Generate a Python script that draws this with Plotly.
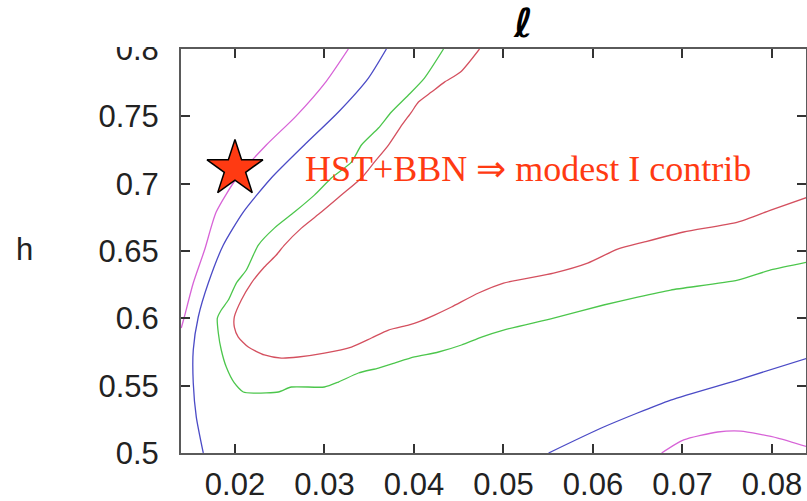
import plotly.graph_objects as go

# Confidence contours in the (l, h) plane
magenta_upper_x = [0.03267, 0.0302, 0.0268, 0.0235, 0.0202, 0.0179, 0.0166, 0.01534, 0.01434, 0.0140]
magenta_upper_y = [0.800, 0.776, 0.750, 0.7287, 0.7042, 0.6789, 0.6507, 0.6262, 0.601, 0.5928]

magenta_lower_x = [0.06767, 0.07013, 0.07393, 0.07651, 0.08064, 0.0840]
magenta_lower_y = [0.500, 0.5097, 0.5156, 0.5163, 0.5111, 0.5045]

blue_upper_x = [0.03692, 0.03491, 0.03156, 0.02775, 0.02406, 0.02093, 0.0187, 0.01702,
                0.0159, 0.01534, 0.01534, 0.01568, 0.01646]
blue_upper_y = [0.800, 0.7784, 0.7532, 0.7287, 0.7042, 0.6789, 0.6544, 0.6262,
                0.601, 0.5765, 0.552, 0.5267, 0.500]

blue_lower_x = [0.05504, 0.06119, 0.06868, 0.07617, 0.0840]
blue_lower_y = [0.500, 0.5193, 0.5393, 0.5542, 0.5705]

green_x = [0.0433, 0.04117, 0.03938, 0.03748, 0.03603, 0.03413, 0.03301, 0.03077, 0.02887,
           0.02664, 0.0244, 0.02261, 0.02127, 0.02015, 0.01926, 0.01847, 0.01803, 0.01814,
           0.01847, 0.01903, 0.01993, 0.02093, 0.02216, 0.02485, 0.0263, 0.02999, 0.03156,
           0.03379, 0.03603, 0.03782, 0.04005, 0.04274, 0.04531, 0.04755, 0.05001, 0.0556,
           0.06119, 0.06499, 0.06868, 0.07617, 0.07986, 0.0840]
green_y = [0.800, 0.7784, 0.7658, 0.7532, 0.7413, 0.7287, 0.716, 0.7042, 0.6915,
           0.6789, 0.667, 0.6544, 0.6359, 0.6262, 0.6136, 0.6062, 0.6002, 0.5891,
           0.5765, 0.5638, 0.552, 0.5453, 0.5445, 0.5453, 0.549, 0.549, 0.5527,
           0.5594, 0.5631, 0.5668, 0.5713, 0.575, 0.5802, 0.5861, 0.5913, 0.6002,
           0.6099, 0.6158, 0.621, 0.6284, 0.6359, 0.6418]

red_x = [0.04732, 0.0452, 0.04341, 0.04195, 0.0405, 0.03972, 0.03849, 0.03715, 0.03558,
         0.03413, 0.03189, 0.02965, 0.02742, 0.02552, 0.02462, 0.02328, 0.02183, 0.02071,
         0.01993, 0.01993, 0.02037, 0.02149, 0.02328, 0.02518, 0.02708, 0.02999, 0.03301,
         0.03525, 0.03715, 0.03938, 0.0405, 0.04229, 0.04419, 0.04721, 0.05001, 0.0556,
         0.0594, 0.06275, 0.06566, 0.07013, 0.07617, 0.07986, 0.0840]
red_y = [0.800, 0.7829, 0.7754, 0.768, 0.7606, 0.7532, 0.742, 0.7287, 0.716,
         0.7042, 0.6915, 0.6789, 0.667, 0.6544, 0.647, 0.6381, 0.6262, 0.6136,
         0.601, 0.5935, 0.5861, 0.5787, 0.5728, 0.5705, 0.5713, 0.5742, 0.5787,
         0.5854, 0.5913, 0.595, 0.5973, 0.6024, 0.6084, 0.6188, 0.6262, 0.6336,
         0.641, 0.6514, 0.6566, 0.6641, 0.6715, 0.6804, 0.690]

# HST + BBN point
hst_x = [0.020]
hst_y = [0.711]

x_ticks = [0.02, 0.03, 0.04, 0.05, 0.06, 0.07, 0.08]
y_ticks = [0.5, 0.55, 0.6, 0.65, 0.7, 0.75, 0.8]
y_tick_text = ["0.5", "0.55", "0.6", "0.65", "0.7", "0.75", "0.8"]

MAGENTA = "#d763d7"
BLUE = "#4b4bc6"
GREEN = "#4cc64c"
RED = "#d4505f"
ORANGE = "#ff3a12"

fig = go.Figure()

for xs, ys, col in [
    (magenta_upper_x, magenta_upper_y, MAGENTA),
    (magenta_lower_x, magenta_lower_y, MAGENTA),
    (blue_upper_x, blue_upper_y, BLUE),
    (blue_lower_x, blue_lower_y, BLUE),
    (green_x, green_y, GREEN),
    (red_x, red_y, RED),
]:
    fig.add_trace(go.Scatter(x=xs, y=ys, mode="lines",
                             line=dict(color=col, width=1.3, shape="spline", smoothing=0.6),
                             showlegend=False, hoverinfo="skip"))

fig.add_trace(go.Scatter(x=hst_x, y=hst_y, mode="markers",
                         marker=dict(symbol="star", size=42, color=ORANGE,
                                     line=dict(color="black", width=1.5)),
                         showlegend=False, cliponaxis=False))

axis_common = dict(
    showline=True, linecolor="#5a5a5a", linewidth=2, mirror="ticks",
    ticks="inside", ticklen=9, tickwidth=1.6, tickcolor="#333333",
    showgrid=False, zeroline=False, automargin=False,
    tickfont=dict(family="Liberation Sans, Arial, sans-serif", size=31, color="#222222"),
)

fig.update_xaxes(range=[0.01397, 0.08380], tickvals=x_ticks,
                 ticktext=[f"{v:.2f}" for v in x_ticks], ticklabelstandoff=3, **axis_common)
fig.update_yaxes(range=[0.5, 0.8], tickvals=y_ticks, ticktext=y_tick_text,
                 ticklabelstandoff=14, **axis_common)

# strip above the frame on the left hides the upper part of the top label
fig.add_shape(type="rect", xref="paper", yref="paper", x0=-0.35, x1=-0.005,
              y0=1.005, y1=1.2, fillcolor="white", line_width=0, layer="above")

fig.add_annotation(text="HST+BBN \u21d2 modest I contrib", xref="paper", yref="paper",
                   x=0.195, y=0.704, xanchor="left", yanchor="middle", showarrow=False,
                   font=dict(family="Liberation Serif, Times New Roman, serif", size=36, color=ORANGE))

fig.add_annotation(text="h", xref="paper", yref="paper", x=-0.25, y=0.5025,
                   xanchor="center", yanchor="middle", showarrow=False,
                   font=dict(family="Liberation Sans, Arial, sans-serif", size=31, color="#222222"))

fig.add_annotation(text="<i><b>\u2113</b></i>", xref="paper", yref="paper", x=0.547, y=1.064,
                   xanchor="center", yanchor="middle", showarrow=False,
                   font=dict(family="DejaVu Sans, sans-serif", size=40, color="black"))

fig.update_layout(
    width=807, height=501,
    margin=dict(l=181, r=1, t=49, b=48),
    paper_bgcolor="white", plot_bgcolor="white",
)

fig.write_html("out.html")
